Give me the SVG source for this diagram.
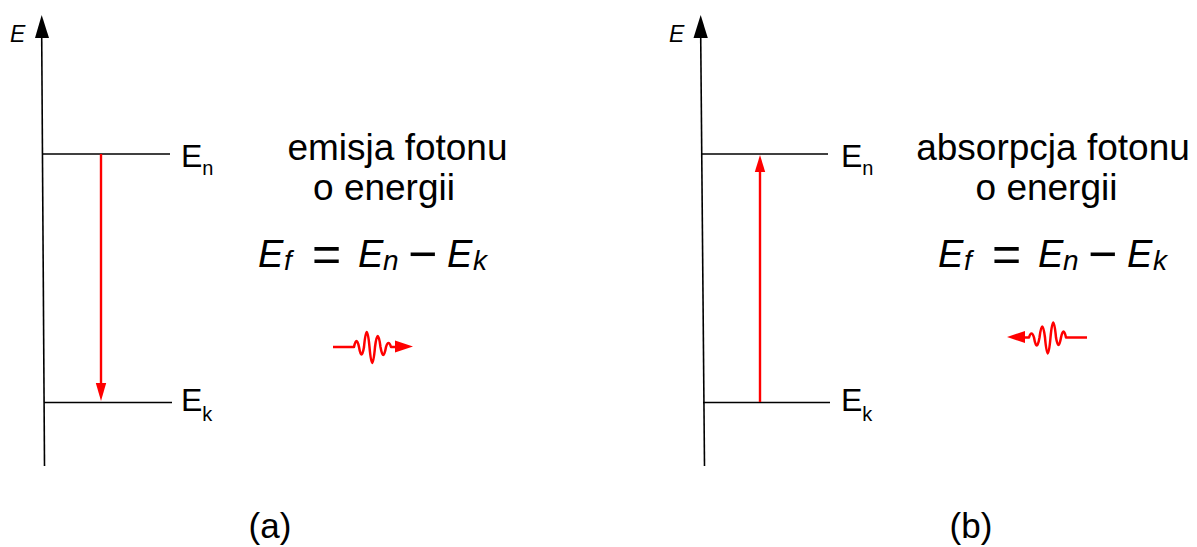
<svg xmlns="http://www.w3.org/2000/svg" width="1197" height="547" viewBox="0 0 1197 547">
<style>
text{font-family:"Liberation Sans",Arial,sans-serif;fill:#000}
.ax{stroke:#000;stroke-width:1.6;fill:none}
.lvl{stroke:#000;stroke-width:1.6;fill:none}
.tr{stroke:#ff0000;stroke-width:2.4;fill:none}
.head{fill:#ff0000;stroke:none}
.big{font-size:37px}
.lvlE{font-size:32px}
.sub{font-size:20px}
.axe{font-size:23px;font-style:italic}
.eq{font-size:38px;font-style:italic}
.eqs{font-size:28px;font-style:italic}
.op{font-size:50px;font-style:normal}
.wave{stroke:#ff0000;stroke-width:2.5;fill:none;stroke-linejoin:round}
</style>
<defs>
<g id="photon">
<path class="wave" d="M333,347 L354,347 Q356.5,335 359,347 Q361.5,362 364,347 Q366.75,317 369.5,347 Q372.25,379 375,347 Q377.75,325 380.5,347 Q383.25,363 386,347 Q388.5,339 391,347 L397,347"/>
<polygon class="head" points="395,340.5 413,346.5 395,352.5"/>
</g>
</defs>

<g id="panel-a">
<g id="axis-a">
<line class="ax" x1="41.7" y1="36" x2="44.5" y2="466"/>
<polygon fill="#000" points="41.7,15 35,38 49,38"/>
<text x="10" y="42" class="axe">E</text>
</g>
<g id="level-En-a">
<line class="lvl" x1="43" y1="154" x2="170" y2="154"/>
<text x="181" y="167" class="lvlE">E<tspan class="sub" dy="8">n</tspan></text>
</g>
<g id="level-Ek-a">
<line class="lvl" x1="44" y1="402.5" x2="172" y2="402.5"/>
<text x="181" y="411" class="lvlE">E<tspan class="sub" dy="10">k</tspan></text>
</g>
<g id="text-a">
<text class="big" x="397.5" y="160" text-anchor="middle">emisja fotonu</text>
<text class="big" x="384" y="200" text-anchor="middle">o energii</text>
<text y="267" class="eq"><tspan x="258">E</tspan><tspan class="eqs" x="284" y="270">f</tspan><tspan class="op" x="312" y="271">=</tspan><tspan x="358" y="267">E</tspan><tspan class="eqs" x="383" y="270">n</tspan><tspan class="op" x="408" y="271">−</tspan><tspan x="447" y="267">E</tspan><tspan class="eqs" x="473" y="270">k</tspan></text>
</g>
<g id="photon-a"><use href="#photon"/></g>
<text id="label-a" x="270" y="538" font-size="35" text-anchor="middle">(a)</text>
</g>

<g id="panel-b">
<g id="axis-b">
<line class="ax" x1="700.7" y1="36" x2="704.5" y2="466"/>
<polygon fill="#000" points="700.7,15 693.5,38 707.8,38"/>
<text x="669" y="42" class="axe">E</text>
</g>
<g id="level-En-b">
<line class="lvl" x1="702" y1="154" x2="828" y2="154"/>
<text x="841" y="167" class="lvlE">E<tspan class="sub" dy="8">n</tspan></text>
</g>
<g id="level-Ek-b">
<line class="lvl" x1="703" y1="402.5" x2="830" y2="402.5"/>
<text x="841" y="411" class="lvlE">E<tspan class="sub" dy="10">k</tspan></text>
</g>
<g id="text-b">
<text class="big" x="1053" y="160" text-anchor="middle">absorpcja fotonu</text>
<text class="big" x="1046.5" y="200" text-anchor="middle">o energii</text>
<text y="267" class="eq"><tspan x="938">E</tspan><tspan class="eqs" x="964" y="270">f</tspan><tspan class="op" x="992" y="271">=</tspan><tspan x="1038" y="267">E</tspan><tspan class="eqs" x="1063" y="270">n</tspan><tspan class="op" x="1088" y="271">−</tspan><tspan x="1127" y="267">E</tspan><tspan class="eqs" x="1153" y="270">k</tspan></text>
</g>
<g id="photon-b"><use href="#photon" transform="translate(1420,-9.5) scale(-1,1)"/></g>
<text id="label-b" x="971" y="538" font-size="35" text-anchor="middle">(b)</text>
</g>

<g id="connectors">
<line class="tr" x1="101" y1="154" x2="101" y2="385"/>
<polygon class="head" points="95.8,383 106.2,383 101,401"/>
<line class="tr" x1="760" y1="402" x2="760" y2="170"/>
<polygon class="head" points="754.8,172 765.2,172 760,155"/>
</g>
</svg>
